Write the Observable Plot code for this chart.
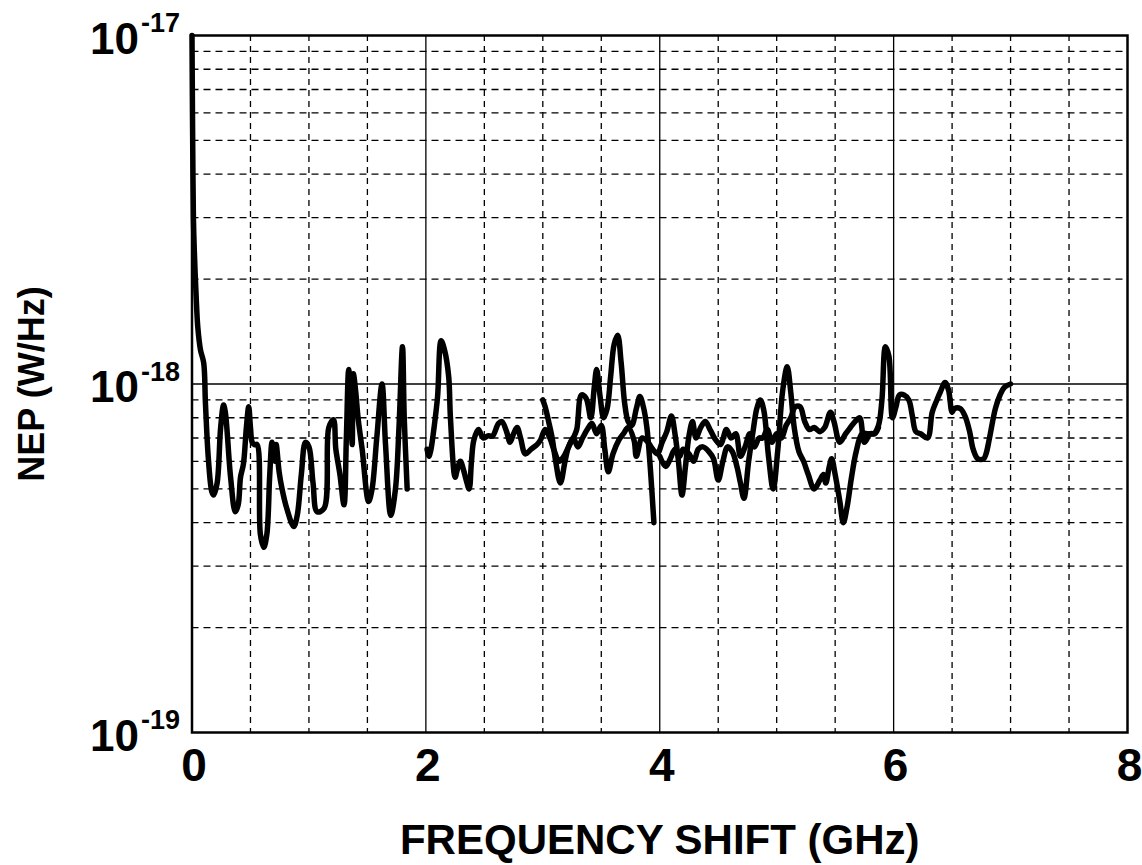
<!DOCTYPE html>
<html><head><meta charset="utf-8">
<script src="https://cdn.jsdelivr.net/npm/d3@7"></script>
<script src="https://cdn.jsdelivr.net/npm/@observablehq/plot@0.6"></script>
<style>body{margin:0;background:#fff;}</style>
</head><body><div id="chart"></div>
<script>
// NEP in units of 1e-18 W/Hz, x = frequency shift (GHz)
const traceA = [[0.000,10.0],[0.004,6.0],[0.008,4.0],[0.012,3.0],[0.02,2.4],[0.035,1.8],[0.05,1.45],[0.073,1.25],[0.10,1.15],[0.115,0.88],[0.14,0.61],[0.17,0.49],[0.185,0.48],[0.215,0.52],[0.245,0.75],[0.27,0.87],[0.285,0.83],[0.33,0.54],[0.37,0.43],[0.395,0.45],[0.415,0.54],[0.44,0.59],[0.465,0.75],[0.485,0.86],[0.50,0.75],[0.515,0.68],[0.535,0.67],[0.557,0.67],[0.585,0.37],[0.614,0.34],[0.64,0.37],[0.665,0.55],[0.685,0.68],[0.71,0.6],[0.72,0.67],[0.745,0.56],[0.77,0.5],[0.81,0.44],[0.87,0.39],[0.9,0.42],[0.935,0.55],[0.97,0.68],[1.0,0.66],[1.035,0.52],[1.07,0.43],[1.13,0.44],[1.17,0.75],[1.21,0.79],[1.23,0.65],[1.265,0.55],[1.3,0.45],[1.32,0.7],[1.34,1.1],[1.355,0.95],[1.37,0.67],[1.38,1.07],[1.40,0.95],[1.42,0.8],[1.455,0.65],[1.51,0.46],[1.54,0.5],[1.58,0.7],[1.625,1.0],[1.655,0.67],[1.70,0.42],[1.74,0.5],[1.77,0.75],[1.80,1.28],[1.815,0.8],[1.84,0.5]];
const traceB = [[2.01,0.65],[2.025,0.62],[2.04,0.64],[2.07,0.75],[2.10,0.92],[2.13,1.33],[2.16,1.25],[2.195,1.05],[2.21,0.8],[2.25,0.54],[2.27,0.57],[2.295,0.6],[2.32,0.57],[2.345,0.53],[2.37,0.5],[2.39,0.6],[2.41,0.69],[2.45,0.74],[2.49,0.7],[2.53,0.71],[2.57,0.71],[2.62,0.77],[2.65,0.78],[2.69,0.73],[2.72,0.68],[2.75,0.72],[2.78,0.75],[2.81,0.7],[2.85,0.63],[2.9,0.65],[2.95,0.67],[2.98,0.69],[3.02,0.74],[3.06,0.70],[3.10,0.64],[3.14,0.60],[3.18,0.62],[3.22,0.66],[3.26,0.70],[3.30,0.66],[3.34,0.70],[3.38,0.74],[3.42,0.77],[3.46,0.72],[3.50,0.76],[3.53,0.65],[3.56,0.56],[3.60,0.63],[3.65,0.69],[3.69,0.72],[3.73,0.75],[3.78,0.69],[3.80,0.62],[3.85,0.70],[3.90,0.68],[3.94,0.65],[3.98,0.63],[4.02,0.68],[4.06,0.73],[4.10,0.81],[4.13,0.72],[4.16,0.60],[4.19,0.48],[4.22,0.58],[4.25,0.71],[4.28,0.78],[4.31,0.70],[4.35,0.75],[4.39,0.78],[4.43,0.74],[4.48,0.69],[4.52,0.67],[4.57,0.74],[4.61,0.70],[4.65,0.72],[4.69,0.62],[4.73,0.66],[4.77,0.72],[4.81,0.66],[4.85,0.70],[4.88,0.70],[4.92,0.74],[4.96,0.68],[5.00,0.72],[5.04,0.70],[5.08,0.76],[5.12,0.80],[5.16,0.86],[5.20,0.86],[5.24,0.78],[5.28,0.74],[5.32,0.75],[5.37,0.73],[5.41,0.75],[5.46,0.83],[5.49,0.78],[5.54,0.68],[5.59,0.72],[5.63,0.75],[5.67,0.78],[5.71,0.80],[5.75,0.68],[5.80,0.72],[5.84,0.72],[5.87,0.75]];
const traceC = [[3.00,0.90],[3.02,0.86],[3.05,0.78],[3.08,0.70],[3.11,0.60],[3.15,0.52],[3.19,0.60],[3.22,0.66],[3.26,0.70],[3.29,0.74],[3.33,0.93],[3.37,0.91],[3.41,0.80],[3.44,0.98],[3.46,1.10],[3.49,0.92],[3.52,0.80],[3.55,0.85],[3.58,1.05],[3.61,1.30],[3.64,1.38],[3.67,1.15],[3.70,0.88],[3.73,0.78],[3.76,0.76],[3.80,0.85],[3.83,0.92],[3.86,0.86],[3.89,0.75],[3.92,0.57],[3.95,0.40]];
const traceD = [[4.00,0.62],[4.05,0.58],[4.09,0.61],[4.13,0.65],[4.17,0.62],[4.20,0.65],[4.25,0.63],[4.29,0.60],[4.33,0.65],[4.37,0.66],[4.42,0.64],[4.46,0.61],[4.50,0.53],[4.54,0.60],[4.58,0.66],[4.62,0.64],[4.66,0.58],[4.69,0.52],[4.72,0.47],[4.76,0.60],[4.80,0.74],[4.83,0.85],[4.86,0.90],[4.89,0.84],[4.93,0.62],[4.97,0.50],[5.01,0.65],[5.05,0.95],[5.09,1.12],[5.12,0.95],[5.15,0.75],[5.19,0.64],[5.23,0.60],[5.27,0.55],[5.32,0.50],[5.37,0.53],[5.40,0.55],[5.42,0.52],[5.45,0.58],[5.47,0.61],[5.50,0.55],[5.54,0.46],[5.57,0.40],[5.60,0.44],[5.64,0.54],[5.68,0.64],[5.73,0.72],[5.78,0.72],[5.83,0.72],[5.87,0.76],[5.90,0.90],[5.93,1.28],[5.96,1.20],[5.99,0.80],[6.02,0.86],[6.05,0.93],[6.09,0.93],[6.13,0.90],[6.16,0.81],[6.19,0.73],[6.23,0.72],[6.29,0.70],[6.33,0.83],[6.37,0.90],[6.40,0.95],[6.44,1.01],[6.47,0.96],[6.50,0.83],[6.52,0.85],[6.57,0.85],[6.61,0.81],[6.65,0.73],[6.68,0.65],[6.72,0.61],[6.77,0.61],[6.79,0.63],[6.82,0.70],[6.87,0.85],[6.91,0.93],[6.95,0.98],[7.00,1.00]];

const xTicks = [0, 2, 4, 6, 8];
const xMajorGrid = [2, 4, 6];
const xMinorGrid = [0.5, 1, 1.5, 2.5, 3, 3.5, 4.5, 5, 5.5, 6.5, 7, 7.5];
const yTicks = [1e-19, 1e-18, 1e-17];
const yMajorGrid = [1e-18];
const yMinorGrid = [2e-19,3e-19,4e-19,5e-19,6e-19,7e-19,8e-19,9e-19,2e-18,3e-18,4e-18,5e-18,6e-18,7e-18,8e-18,9e-18];
const xTitle = "FREQUENCY SHIFT (GHz)";
const yTitle = "NEP (W/Hz)";

const lineOpts = {x: d => d[0], y: d => d[1] * 1e-18, stroke: "#000", strokeWidth: 5.5, strokeLinejoin: "round", strokeLinecap: "round", curve: "catmull-rom"};

const chart = Plot.plot({
  width: 1142, height: 865,
  marginLeft: 191.5, marginRight: 15, marginTop: 35, marginBottom: 133,
  x: {domain: [0, 8], axis: null},
  y: {type: "log", domain: [1e-19, 1e-17], axis: null},
  style: {fontFamily: "'Liberation Sans', Arial, sans-serif", background: "#fff", overflow: "visible", color: "#000"},
  marks: [
    Plot.ruleX(xMinorGrid, {x: d => d, stroke: "#000", strokeWidth: 1.3, strokeDasharray: "6,5"}),
    Plot.ruleY(yMinorGrid, {y: d => d, stroke: "#000", strokeWidth: 1.3, strokeDasharray: "7,5"}),
    Plot.ruleX(xMajorGrid, {x: d => d, stroke: "#000", strokeWidth: 1.3}),
    Plot.ruleY(yMajorGrid, {y: d => d, stroke: "#000", strokeWidth: 1.3}),
    Plot.frame({stroke: "#000", strokeWidth: 2.5}),
    Plot.line(traceA, lineOpts),
    Plot.line(traceB, lineOpts),
    Plot.line(traceC, lineOpts),
    Plot.line(traceD, lineOpts),
    Plot.text(xTicks, {x: d => d, frameAnchor: "bottom", text: d => String(d), dy: 34, dx: 2, fontSize: 46, fontWeight: "bold", textAnchor: "middle", lineAnchor: "middle", fill: "#000"}),
    Plot.text(yTicks, {y: d => d, frameAnchor: "left", text: () => "10", textAnchor: "end", dx: -53, dy: 4, fontSize: 44, fontWeight: "bold", lineAnchor: "middle", fill: "#000"}),
    Plot.text(yTicks, {y: d => d, frameAnchor: "left", text: d => String(Math.round(Math.log10(d))), textAnchor: "start", dx: -51, dy: -12, fontSize: 27, fontWeight: "bold", lineAnchor: "middle", fill: "#000"}),
    Plot.text([xTitle], {frameAnchor: "bottom", text: d => d, dy: 108, fontSize: 42, fontWeight: "bold", textAnchor: "middle", lineAnchor: "middle", fill: "#000"}),
    Plot.text([yTitle], {frameAnchor: "left", text: d => d, dx: -160, rotate: -90, fontSize: 36, fontWeight: "bold", textAnchor: "middle", lineAnchor: "middle", fill: "#000"})
  ]
});
document.getElementById("chart").appendChild(chart);
</script>
</body></html>
